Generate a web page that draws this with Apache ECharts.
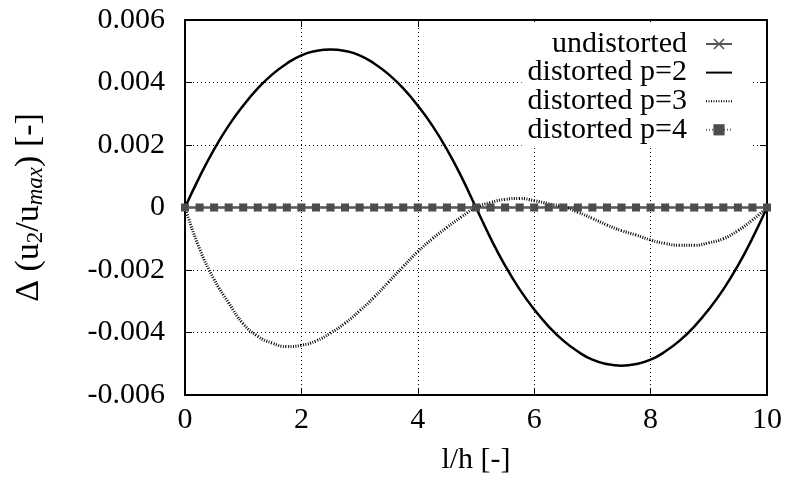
<!DOCTYPE html>
<html>
<head>
<meta charset="utf-8">
<script src="https://cdn.jsdelivr.net/npm/echarts@6/dist/echarts.min.js"></script>
<style>html,body{margin:0;padding:0;background:#fff;}#c{width:791px;height:488px;}</style>
</head>
<body>
<div id="c"></div>
<script>
const xs = [0,0.25,0.5,0.75,1,1.25,1.5,1.75,2,2.25,2.5,2.75,3,3.25,3.5,3.75,4,4.25,4.5,4.75,5,5.25,5.5,5.75,6,6.25,6.5,6.75,7,7.25,7.5,7.75,8,8.25,8.5,8.75,9,9.25,9.5,9.75,10];
const undistorted = [0,0,0,0,0,0,0,0,0,0,0,0,0,0,0,0,0,0,0,0,0,0,0,0,0,0,0,0,0,0,0,0,0,0,0,0,0,0,0,0,0];
const p2 = [0,0.00098,0.00186,0.00262,0.00326,0.00381,0.00426,0.00461,0.00487,0.00501,0.00506,0.00501,0.00487,0.00461,0.00426,0.00381,0.00326,0.00262,0.00186,0.00098,0,
  -0.00098,-0.00186,-0.00262,-0.00326,-0.00381,-0.00426,-0.00461,-0.00487,-0.00501,-0.00506,-0.00501,-0.00487,-0.00461,-0.00426,-0.00381,-0.00326,-0.00262,-0.00186,-0.00098,0];
const p3 = [0,-0.00132,-0.00230,-0.00305,-0.00372,-0.00412,-0.00434,-0.00445,-0.00441,-0.00427,-0.00402,-0.00370,-0.00331,-0.00287,-0.00238,-0.00189,-0.00141,-0.00100,-0.00064,-0.00030,0,
  0.00016,0.00026,0.00029,0.00022,0.00012,0.00002,-0.00015,-0.00035,-0.00056,-0.00074,-0.00088,-0.00104,-0.00115,-0.00121,-0.00121,-0.00113,-0.00100,-0.00074,-0.00040,0];
const p4 = [0,0,0,0,0,0,0,0,0,0,0,0,0,0,0,0,0,0,0,0,0,0,0,0,0,0,0,0,0,0,0,0,0,0,0,0,0,0,0,0,0];
const seriesNames = ['undistorted','distorted p=2','distorted p=3','distorted p=4'];
const xTicks = {min:0, max:10, interval:2};
const yTicks = {min:-0.006, max:0.006, interval:0.002};

const FONT = 'Liberation Serif';
const pairs = arr => xs.map((x,i)=>[x,arr[i]]);
const crossPath = 'path://M1,0 L5,4 L9,0 L10,1 L6,5 L10,9 L9,10 L5,6 L1,10 L0,9 L4,5 L0,1 Z';

const chart = echarts.init(document.getElementById('c'), null, {renderer:'canvas'});
const axisLineStyle = {show:true, onZero:false, lineStyle:{color:'#000', width:2}};
const tick = {show:true, inside:true, length:7, lineStyle:{color:'#000', width:1}};
const grid = {show:true, lineStyle:{color:'#000', width:1, type:[1,3]}};
chart.setOption({
  animation:false,
  backgroundColor:'#fff',
  grid:{left:185, right:24, top:20, bottom:93},
  legend:{
    orient:'vertical', right:39, top:22, align:'right',
    padding:[7,19,3,6], itemGap:-1.4, itemWidth:26, itemHeight:14,
    backgroundColor:'#fff',
    textStyle:{fontFamily:FONT, fontSize:30, color:'#000', lineHeight:28, padding:[0,14,0,0]},
    data:[
      {name:seriesNames[0]},
      {name:seriesNames[1], itemStyle:{opacity:0}},
      {name:seriesNames[2], itemStyle:{opacity:0}},
      {name:seriesNames[3]}
    ]
  },
  xAxis:[
    {type:'value', min:xTicks.min, max:xTicks.max, interval:xTicks.interval, position:'bottom',
     axisLine:axisLineStyle, axisTick:tick, splitLine:grid,
     axisLabel:{fontFamily:FONT, fontSize:30, color:'#000', margin:10},
     name:'l/h [-]', nameLocation:'middle', nameGap:50,
     nameTextStyle:{fontFamily:FONT, fontSize:30, color:'#000'}},
    {type:'value', min:xTicks.min, max:xTicks.max, interval:xTicks.interval, position:'top',
     axisLine:axisLineStyle, axisTick:tick, splitLine:{show:false}, axisLabel:{show:false}}
  ],
  yAxis:[
    {type:'value', min:yTicks.min, max:yTicks.max, interval:yTicks.interval, position:'left',
     axisLine:axisLineStyle, axisTick:tick, splitLine:grid,
     axisLabel:{fontFamily:FONT, fontSize:30, color:'#000', margin:20},
     name:'{a|Δ (u}{b|2}{a|/u}{c|max}{a|) [-]}', nameLocation:'middle', nameGap:138, nameRotate:90,
     nameTextStyle:{color:'#000', rich:{
       a:{fontFamily:FONT, fontSize:34, color:'#000'},
       b:{fontFamily:FONT, fontSize:23, color:'#000', padding:[13,0,0,0]},
       c:{fontFamily:FONT, fontSize:23, color:'#000', fontStyle:'italic', padding:[13,0,0,0]}
     }}},
    {type:'value', min:yTicks.min, max:yTicks.max, interval:yTicks.interval, position:'right',
     axisLine:axisLineStyle, axisTick:tick, splitLine:{show:false}, axisLabel:{show:false}}
  ],
  series:[
    {name:seriesNames[0], type:'line', data:pairs(undistorted), symbol:crossPath, symbolSize:8,
     itemStyle:{color:'#555'}, lineStyle:{color:'#555', width:2.5}},
    {name:seriesNames[1], type:'line', data:pairs(p2), smooth:true, symbol:'none', showSymbol:false,
     itemStyle:{color:'#000'}, lineStyle:{color:'#000', width:2.5}},
    {name:seriesNames[2], type:'line', data:pairs(p3), smooth:true, symbol:'none', showSymbol:false,
     itemStyle:{color:'#000'}, lineStyle:{color:'#000', width:3, type:[1,1.5]}},
    {name:seriesNames[3], type:'line', data:pairs(p4), symbol:'rect', symbolSize:8,
     itemStyle:{color:'#4d4d4d'}, lineStyle:{color:'#666', width:2, type:[1,2]}}
  ]
});
</script>
</body>
</html>
